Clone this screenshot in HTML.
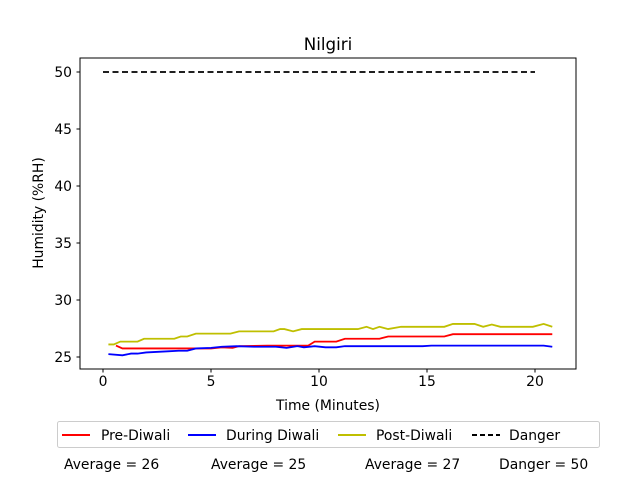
<!DOCTYPE html>
<html><head><meta charset="utf-8"><style>
body{margin:0;background:#fff;}
svg text{font-family:"DejaVu Sans","Liberation Sans",sans-serif;fill:#000;}
</style></head><body>
<svg id="c" width="640" height="480" viewBox="0 0 640 480" xmlns="http://www.w3.org/2000/svg">
<rect width="640" height="480" fill="#fff"/>
<text x="328" y="50" font-size="16.7" text-anchor="middle">Nilgiri</text>
<g id="plot"></g>
<rect x="80" y="58" width="496" height="311" fill="none" stroke="#000" stroke-width="1"/>
<text x="328" y="410" font-size="13.9" text-anchor="middle">Time (Minutes)</text>
<text transform="translate(43,213) rotate(-90)" font-size="13.9" text-anchor="middle">Humidity (%RH)</text>
<g>
<rect x="57.5" y="421.5" width="542" height="26" rx="2" fill="#fff" stroke="#ccc"/>
<line x1="62" y1="435" x2="90" y2="435" stroke="#f00" stroke-width="2"/>
<text x="101" y="440" font-size="13.9">Pre-Diwali</text>
<line x1="188" y1="435" x2="216" y2="435" stroke="#00f" stroke-width="2"/>
<text x="226" y="440" font-size="13.9">During Diwali</text>
<line x1="338" y1="435" x2="366" y2="435" stroke="#bfbf00" stroke-width="2"/>
<text x="376" y="440" font-size="13.9">Post-Diwali</text>
<line x1="472" y1="435" x2="500" y2="435" stroke="#000" stroke-width="2" stroke-dasharray="5,3"/>
<text x="509" y="440" font-size="13.9">Danger</text>
</g>
<text x="64" y="469" font-size="13.9">Average = 26</text>
<text x="211" y="469" font-size="13.9">Average = 25</text>
<text x="365" y="469" font-size="13.9">Average = 27</text>
<text x="499" y="469" font-size="13.9">Danger = 50</text>
</svg>
<script>
const xTicks=[0,5,10,15,20];
const yTicks=[25,30,35,40,45,50];
const preX=[0.6,0.9,5.0,5.5,6.0,6.3,7.6,9.5,9.8,10.8,11.2,12.8,13.2,15.8,16.2,20.8];
const preY=[26.0,25.75,25.75,25.85,25.8,25.95,26.0,26.0,26.35,26.35,26.6,26.6,26.8,26.8,27.0,27.0];
const duringX=[0.25,0.9,1.3,1.6,2.0,3.0,3.5,3.9,4.3,5.0,5.5,6.2,7.0,8.0,8.5,9.0,9.3,9.8,10.3,10.8,11.2,14.8,15.2,20.4,20.8];
const duringY=[25.25,25.15,25.3,25.3,25.4,25.5,25.55,25.55,25.75,25.8,25.9,25.95,25.9,25.9,25.8,25.95,25.85,25.95,25.85,25.85,25.95,25.95,26.0,26.0,25.9];
const postX=[0.25,0.5,0.8,1.6,1.9,3.3,3.6,3.9,4.3,5.9,6.3,7.9,8.2,8.4,8.8,9.2,11.8,12.2,12.5,12.8,13.2,13.8,15.8,16.2,17.2,17.6,18.0,18.4,19.9,20.4,20.8];
const postY=[26.1,26.1,26.35,26.35,26.6,26.6,26.8,26.8,27.05,27.05,27.25,27.25,27.45,27.45,27.25,27.45,27.45,27.65,27.45,27.65,27.45,27.65,27.65,27.9,27.9,27.65,27.85,27.65,27.65,27.9,27.65];
const dangerX=[0,20];
const dangerY=[50,50];
const sx=v=>103+v*21.6;
const sy=v=>357-(v-25)*11.4;
const NS="http://www.w3.org/2000/svg";
const g=document.getElementById('plot');
function mk(tag,attrs){const e=document.createElementNS(NS,tag);for(const k in attrs)e.setAttribute(k,attrs[k]);g.appendChild(e);return e;}
xTicks.forEach(t=>{
  const l=mk('line',{x1:sx(t),x2:sx(t),y1:369,y2:372.5,stroke:'#000'});
  
  
  const tx=mk('text',{x:sx(t),y:386,'font-size':13.9,'text-anchor':'middle'});tx.textContent=t;
  
  
});
yTicks.forEach(t=>{
  const l=mk('line',{x1:76.5,x2:80,y1:sy(t),y2:sy(t),stroke:'#000'});
  
  
  const tx=mk('text',{x:72,y:sy(t)+5,'font-size':13.9,'text-anchor':'end'});tx.textContent=t;
  
  
});
function line(xs,ys,color,name,dash){
  const p=mk('polyline',{points:xs.map((x,i)=>sx(x)+','+sy(ys[i])).join(' '),fill:'none',stroke:color,'stroke-width':1.8});
  if(dash)p.setAttribute('stroke-dasharray',dash);
  
  
}
line(dangerX,dangerY,'#000','danger-line','6,3.5');
line(postX,postY,'#bfbf00','post-diwali-line');
line(preX,preY,'#f00','pre-diwali-line');
line(duringX,duringY,'#00f','during-diwali-line');
</script>
</body></html>
